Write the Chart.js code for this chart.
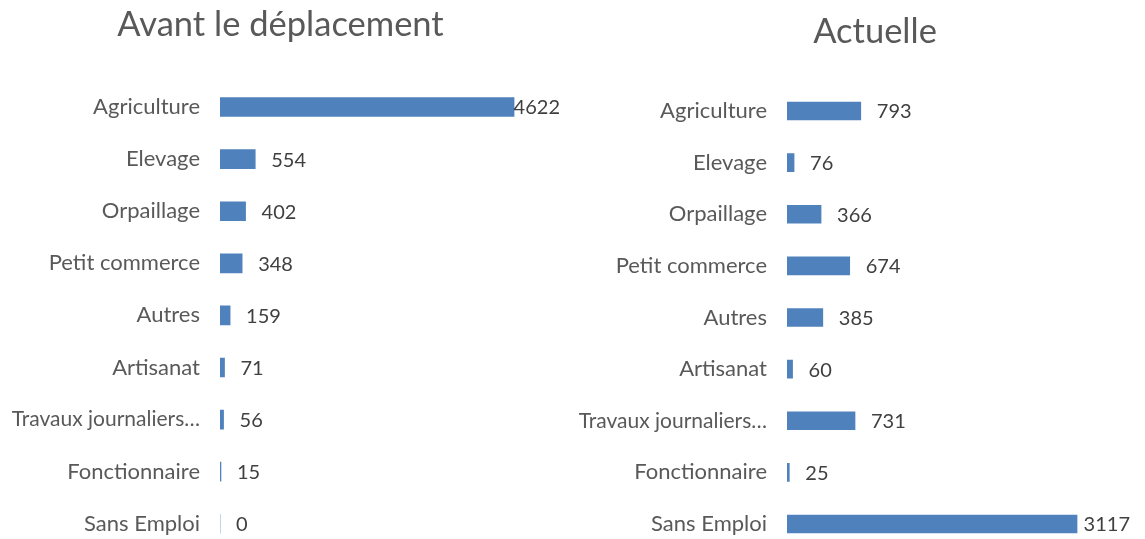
<!DOCTYPE html>
<html>
<head>
<meta charset="utf-8">
<script src="https://cdn.jsdelivr.net/npm/chart.js@4.4.1/dist/chart.umd.min.js"></script>
<style>
  html, body { margin: 0; padding: 0; background: #ffffff; overflow: hidden; }
  #stage { position: relative; width: 1145px; height: 539px; overflow: hidden; }
  .box { position: absolute; top: 0; height: 583px; }
  #boxAvant { left: 0; width: 561px; }
  #boxActuelle { left: 560px; width: 630px; }
</style>
</head>
<body>
<div id="stage">
  <div class="box" id="boxAvant"><canvas id="avantChart" width="561" height="583"></canvas></div>
  <div class="box" id="boxActuelle"><canvas id="actuelleChart" width="630" height="583"></canvas></div>
</div>
<script>
// categories (top to bottom)
const categories = [
    'Agriculture', 'Elevage', 'Orpaillage', 'Petit commerce', 'Autres',
    'Artisanat', 'Travaux journaliers…', 'Fonctionnaire', 'Sans Emploi'
];
const avantValues = [4622, 554, 402, 348, 159, 71, 56, 15, 0];
const actuelleValues = [793, 76, 366, 674, 385, 60, 731, 25, 3117];

const barColor = '#4f81bd';
const fontFamily = "Lato, 'Open Sans', sans-serif";

// value labels drawn just past the end of each bar
const valueLabels = {
    id: 'valueLabels',
    afterDatasetsDraw(chart, args, opts) {
        const ctx = chart.ctx;
        const meta = chart.getDatasetMeta(0);
        const data = chart.data.datasets[0].data;
        ctx.save();
        ctx.font = '20px ' + fontFamily;
        ctx.fillStyle = '#404040';
        ctx.textBaseline = 'middle';
        ctx.textAlign = 'left';
        meta.data.forEach((bar, i) => {
            const txt = String(data[i]);
            const w = ctx.measureText(txt).width;
            let x = bar.x + 16;
            if (x + w > opts.maxRight) x = opts.maxRight - w;
            ctx.fillText(txt, x, bar.y + 1);
        });
        ctx.restore();
    }
};

function makeChart(canvasId, title, values, cfg) {
    const ctx = document.getElementById(canvasId).getContext('2d');
    return new Chart(ctx, {
        type: 'bar',
        data: {
            labels: categories,
            datasets: [{
                data: values,
                backgroundColor: barColor,
                borderWidth: 0,
                barThickness: cfg.barThickness
            }]
        },
        options: {
            indexAxis: 'y',
            responsive: false,
            animation: false,
            devicePixelRatio: 1,
            // canvas is taller than the window: the last band runs past the bottom edge
            scales: {
                x: {
                    display: false,
                    min: 0,
                    max: cfg.xMax
                },
                y: {
                    grid: { display: false, drawTicks: false },
                    border: { display: false },
                    ticks: {
                        color: '#595959',
                        // the long truncated label is a touch smaller so it fits
                        font: (c) => ({
                            family: fontFamily,
                            size: (categories[c.index] || '').length > 16 ? 21 : 22
                        }),
                        padding: 20,
                        autoSkip: false
                    },
                    afterFit: function (scale) {
                        scale.width = cfg.axisWidth;
                    }
                }
            },
            plugins: {
                legend: { display: false },
                tooltip: { enabled: false },
                title: {
                    display: true,
                    text: title,
                    color: '#595959',
                    font: { family: fontFamily, size: 34.5, weight: 'normal', lineHeight: 1.2 },
                    padding: { top: cfg.titleTop, bottom: cfg.titleBottom }
                },
                valueLabels: { maxRight: cfg.maxRight }
            }
        },
        plugins: [valueLabels]
    });
}

makeChart('avantChart', 'Avant le déplacement', avantValues, {
    axisWidth: 220, xMax: 5360,
    titleTop: 4.3, titleBottom: 35.3, barThickness: 19, maxRight: 560
});

makeChart('actuelleChart', 'Actuelle', actuelleValues, {
    axisWidth: 227, xMax: 4331,
    titleTop: 11.3, titleBottom: 32.5, barThickness: 18, maxRight: 570
});
</script>
</body>
</html>
